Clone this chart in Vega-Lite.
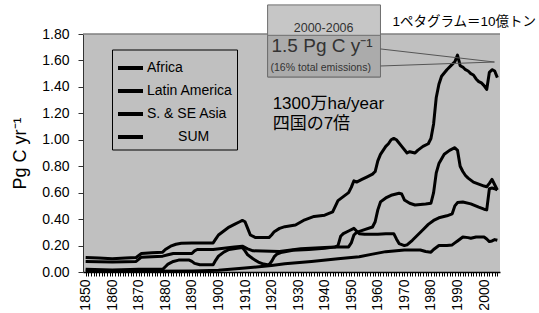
{
"$schema": "https://vega.github.io/schema/vega-lite/v6.json",
"width": 417, "height": 238,
"autosize": {"type": "none"},
"padding": {"left": 83, "top": 34, "right": 39, "bottom": 41},
"background": "white",
"config": {"view": {"fill": "#c0c0c0", "stroke": null}, "font": "Liberation Sans", "axis": {"grid": false, "labelOverlap": false}},
"layer": [
{"data": {"values": [{}]}, "mark": {"type": "rule", "color": "#7f7f7f", "strokeWidth": 1.5}, "encoding": {"y": {"datum": 1.8}}},
{"data": {"values": [
{"year":1850,"region":"SUM","value":0.11},{"year":1855,"region":"SUM","value":0.105},{"year":1860,"region":"SUM","value":0.10},{"year":1865,"region":"SUM","value":0.105},{"year":1869,"region":"SUM","value":0.11},{"year":1871,"region":"SUM","value":0.14},{"year":1875,"region":"SUM","value":0.145},{"year":1879,"region":"SUM","value":0.15},{"year":1880,"region":"SUM","value":0.17},{"year":1882,"region":"SUM","value":0.195},{"year":1884,"region":"SUM","value":0.21},{"year":1886,"region":"SUM","value":0.217},{"year":1890,"region":"SUM","value":0.22},{"year":1898,"region":"SUM","value":0.22},{"year":1899,"region":"SUM","value":0.25},{"year":1900,"region":"SUM","value":0.28},{"year":1902,"region":"SUM","value":0.31},{"year":1904,"region":"SUM","value":0.34},{"year":1906,"region":"SUM","value":0.36},{"year":1908,"region":"SUM","value":0.38},{"year":1909,"region":"SUM","value":0.39},{"year":1910,"region":"SUM","value":0.38},{"year":1911,"region":"SUM","value":0.33},{"year":1912,"region":"SUM","value":0.28},{"year":1914,"region":"SUM","value":0.26},{"year":1919,"region":"SUM","value":0.26},{"year":1920,"region":"SUM","value":0.28},{"year":1921,"region":"SUM","value":0.305},{"year":1923,"region":"SUM","value":0.33},{"year":1925,"region":"SUM","value":0.343},{"year":1929,"region":"SUM","value":0.355},{"year":1932,"region":"SUM","value":0.39},{"year":1936,"region":"SUM","value":0.42},{"year":1940,"region":"SUM","value":0.43},{"year":1943,"region":"SUM","value":0.455},{"year":1945,"region":"SUM","value":0.54},{"year":1947,"region":"SUM","value":0.57},{"year":1949,"region":"SUM","value":0.60},{"year":1950,"region":"SUM","value":0.64},{"year":1951,"region":"SUM","value":0.69},{"year":1952,"region":"SUM","value":0.68},{"year":1954,"region":"SUM","value":0.70},{"year":1956,"region":"SUM","value":0.72},{"year":1958,"region":"SUM","value":0.74},{"year":1959,"region":"SUM","value":0.76},{"year":1960,"region":"SUM","value":0.84},{"year":1961,"region":"SUM","value":0.89},{"year":1962,"region":"SUM","value":0.92},{"year":1963,"region":"SUM","value":0.95},{"year":1964,"region":"SUM","value":0.97},{"year":1965,"region":"SUM","value":1.0},{"year":1966,"region":"SUM","value":1.01},{"year":1967,"region":"SUM","value":1.0},{"year":1969,"region":"SUM","value":0.95},{"year":1971,"region":"SUM","value":0.90},{"year":1972,"region":"SUM","value":0.91},{"year":1974,"region":"SUM","value":0.90},{"year":1975,"region":"SUM","value":0.92},{"year":1977,"region":"SUM","value":0.95},{"year":1979,"region":"SUM","value":0.97},{"year":1980,"region":"SUM","value":1.01},{"year":1981,"region":"SUM","value":1.12},{"year":1982,"region":"SUM","value":1.32},{"year":1983,"region":"SUM","value":1.42},{"year":1984,"region":"SUM","value":1.48},{"year":1986,"region":"SUM","value":1.53},{"year":1988,"region":"SUM","value":1.57},{"year":1989,"region":"SUM","value":1.59},{"year":1990,"region":"SUM","value":1.64},{"year":1991,"region":"SUM","value":1.56},{"year":1992,"region":"SUM","value":1.55},{"year":1993,"region":"SUM","value":1.53},{"year":1994,"region":"SUM","value":1.52},{"year":1995,"region":"SUM","value":1.50},{"year":1996,"region":"SUM","value":1.49},{"year":1997,"region":"SUM","value":1.46},{"year":1998,"region":"SUM","value":1.44},{"year":1999,"region":"SUM","value":1.43},{"year":2000,"region":"SUM","value":1.41},{"year":2001,"region":"SUM","value":1.38},{"year":2002,"region":"SUM","value":1.51},{"year":2003,"region":"SUM","value":1.53},{"year":2004,"region":"SUM","value":1.52},{"year":2005,"region":"SUM","value":1.47},
{"year":1850,"region":"Africa","value":0.005},{"year":1870,"region":"Africa","value":0.005},{"year":1890,"region":"Africa","value":0.008},{"year":1900,"region":"Africa","value":0.013},{"year":1910,"region":"Africa","value":0.03},{"year":1920,"region":"Africa","value":0.05},{"year":1925,"region":"Africa","value":0.062},{"year":1935,"region":"Africa","value":0.08},{"year":1945,"region":"Africa","value":0.10},{"year":1953,"region":"Africa","value":0.116},{"year":1958,"region":"Africa","value":0.135},{"year":1963,"region":"Africa","value":0.154},{"year":1970,"region":"Africa","value":0.166},{"year":1976,"region":"Africa","value":0.166},{"year":1978,"region":"Africa","value":0.155},{"year":1980,"region":"Africa","value":0.15},{"year":1981,"region":"Africa","value":0.17},{"year":1983,"region":"Africa","value":0.20},{"year":1986,"region":"Africa","value":0.20},{"year":1988,"region":"Africa","value":0.205},{"year":1989,"region":"Africa","value":0.22},{"year":1990,"region":"Africa","value":0.235},{"year":1991,"region":"Africa","value":0.25},{"year":1992,"region":"Africa","value":0.265},{"year":1994,"region":"Africa","value":0.26},{"year":1995,"region":"Africa","value":0.255},{"year":1997,"region":"Africa","value":0.265},{"year":2000,"region":"Africa","value":0.265},{"year":2001,"region":"Africa","value":0.25},{"year":2002,"region":"Africa","value":0.23},{"year":2003,"region":"Africa","value":0.235},{"year":2004,"region":"Africa","value":0.245},{"year":2005,"region":"Africa","value":0.24},
{"year":1850,"region":"Latin America","value":0.02},{"year":1860,"region":"Latin America","value":0.015},{"year":1870,"region":"Latin America","value":0.02},{"year":1879,"region":"Latin America","value":0.02},{"year":1880,"region":"Latin America","value":0.04},{"year":1881,"region":"Latin America","value":0.06},{"year":1883,"region":"Latin America","value":0.08},{"year":1885,"region":"Latin America","value":0.09},{"year":1889,"region":"Latin America","value":0.09},{"year":1890,"region":"Latin America","value":0.08},{"year":1891,"region":"Latin America","value":0.065},{"year":1893,"region":"Latin America","value":0.055},{"year":1898,"region":"Latin America","value":0.055},{"year":1899,"region":"Latin America","value":0.09},{"year":1900,"region":"Latin America","value":0.12},{"year":1902,"region":"Latin America","value":0.15},{"year":1904,"region":"Latin America","value":0.17},{"year":1907,"region":"Latin America","value":0.18},{"year":1909,"region":"Latin America","value":0.185},{"year":1910,"region":"Latin America","value":0.16},{"year":1911,"region":"Latin America","value":0.13},{"year":1913,"region":"Latin America","value":0.10},{"year":1915,"region":"Latin America","value":0.075},{"year":1917,"region":"Latin America","value":0.06},{"year":1919,"region":"Latin America","value":0.053},{"year":1920,"region":"Latin America","value":0.08},{"year":1921,"region":"Latin America","value":0.116},{"year":1922,"region":"Latin America","value":0.135},{"year":1924,"region":"Latin America","value":0.15},{"year":1928,"region":"Latin America","value":0.165},{"year":1934,"region":"Latin America","value":0.17},{"year":1940,"region":"Latin America","value":0.18},{"year":1944,"region":"Latin America","value":0.19},{"year":1949,"region":"Latin America","value":0.19},{"year":1950,"region":"Latin America","value":0.22},{"year":1951,"region":"Latin America","value":0.28},{"year":1952,"region":"Latin America","value":0.30},{"year":1955,"region":"Latin America","value":0.32},{"year":1958,"region":"Latin America","value":0.34},{"year":1959,"region":"Latin America","value":0.38},{"year":1960,"region":"Latin America","value":0.47},{"year":1961,"region":"Latin America","value":0.53},{"year":1963,"region":"Latin America","value":0.56},{"year":1965,"region":"Latin America","value":0.58},{"year":1968,"region":"Latin America","value":0.595},{"year":1969,"region":"Latin America","value":0.59},{"year":1970,"region":"Latin America","value":0.545},{"year":1972,"region":"Latin America","value":0.52},{"year":1974,"region":"Latin America","value":0.507},{"year":1978,"region":"Latin America","value":0.515},{"year":1980,"region":"Latin America","value":0.52},{"year":1981,"region":"Latin America","value":0.60},{"year":1982,"region":"Latin America","value":0.75},{"year":1983,"region":"Latin America","value":0.82},{"year":1985,"region":"Latin America","value":0.89},{"year":1987,"region":"Latin America","value":0.92},{"year":1989,"region":"Latin America","value":0.94},{"year":1990,"region":"Latin America","value":0.92},{"year":1991,"region":"Latin America","value":0.80},{"year":1992,"region":"Latin America","value":0.76},{"year":1993,"region":"Latin America","value":0.73},{"year":1994,"region":"Latin America","value":0.71},{"year":1996,"region":"Latin America","value":0.68},{"year":1998,"region":"Latin America","value":0.665},{"year":2000,"region":"Latin America","value":0.65},{"year":2001,"region":"Latin America","value":0.645},{"year":2002,"region":"Latin America","value":0.67},{"year":2003,"region":"Latin America","value":0.70},{"year":2004,"region":"Latin America","value":0.66},{"year":2005,"region":"Latin America","value":0.62},
{"year":1850,"region":"S. & SE Asia","value":0.08},{"year":1855,"region":"S. & SE Asia","value":0.078},{"year":1860,"region":"S. & SE Asia","value":0.075},{"year":1865,"region":"S. & SE Asia","value":0.078},{"year":1869,"region":"S. & SE Asia","value":0.08},{"year":1871,"region":"S. & SE Asia","value":0.112},{"year":1879,"region":"S. & SE Asia","value":0.12},{"year":1881,"region":"S. & SE Asia","value":0.13},{"year":1883,"region":"S. & SE Asia","value":0.14},{"year":1890,"region":"S. & SE Asia","value":0.14},{"year":1891,"region":"S. & SE Asia","value":0.16},{"year":1892,"region":"S. & SE Asia","value":0.17},{"year":1898,"region":"S. & SE Asia","value":0.17},{"year":1902,"region":"S. & SE Asia","value":0.18},{"year":1906,"region":"S. & SE Asia","value":0.19},{"year":1909,"region":"S. & SE Asia","value":0.195},{"year":1911,"region":"S. & SE Asia","value":0.175},{"year":1913,"region":"S. & SE Asia","value":0.16},{"year":1923,"region":"S. & SE Asia","value":0.155},{"year":1931,"region":"S. & SE Asia","value":0.175},{"year":1940,"region":"S. & SE Asia","value":0.185},{"year":1944,"region":"S. & SE Asia","value":0.19},{"year":1945,"region":"S. & SE Asia","value":0.20},{"year":1946,"region":"S. & SE Asia","value":0.27},{"year":1947,"region":"S. & SE Asia","value":0.29},{"year":1949,"region":"S. & SE Asia","value":0.31},{"year":1951,"region":"S. & SE Asia","value":0.33},{"year":1952,"region":"S. & SE Asia","value":0.31},{"year":1953,"region":"S. & SE Asia","value":0.29},{"year":1955,"region":"S. & SE Asia","value":0.285},{"year":1960,"region":"S. & SE Asia","value":0.285},{"year":1963,"region":"S. & SE Asia","value":0.29},{"year":1966,"region":"S. & SE Asia","value":0.29},{"year":1967,"region":"S. & SE Asia","value":0.25},{"year":1968,"region":"S. & SE Asia","value":0.215},{"year":1970,"region":"S. & SE Asia","value":0.20},{"year":1971,"region":"S. & SE Asia","value":0.205},{"year":1973,"region":"S. & SE Asia","value":0.24},{"year":1975,"region":"S. & SE Asia","value":0.28},{"year":1977,"region":"S. & SE Asia","value":0.32},{"year":1979,"region":"S. & SE Asia","value":0.36},{"year":1981,"region":"S. & SE Asia","value":0.39},{"year":1983,"region":"S. & SE Asia","value":0.41},{"year":1986,"region":"S. & SE Asia","value":0.425},{"year":1988,"region":"S. & SE Asia","value":0.44},{"year":1989,"region":"S. & SE Asia","value":0.50},{"year":1990,"region":"S. & SE Asia","value":0.525},{"year":1992,"region":"S. & SE Asia","value":0.53},{"year":1995,"region":"S. & SE Asia","value":0.515},{"year":1998,"region":"S. & SE Asia","value":0.49},{"year":2000,"region":"S. & SE Asia","value":0.475},{"year":2001,"region":"S. & SE Asia","value":0.47},{"year":2002,"region":"S. & SE Asia","value":0.63},{"year":2003,"region":"S. & SE Asia","value":0.635},{"year":2004,"region":"S. & SE Asia","value":0.63},{"year":2005,"region":"S. & SE Asia","value":0.62}
]},
"mark": {"type": "line", "strokeWidth": 3, "strokeJoin": "round"},
"encoding": {
"x": {"field": "year", "type": "quantitative", "scale": {"domain": [1849, 2006], "nice": false, "zero": false},
"axis": {"title": null, "tickCount": 1000, "values": [1850,1851,1852,1853,1854,1855,1856,1857,1858,1859,1860,1861,1862,1863,1864,1865,1866,1867,1868,1869,1870,1871,1872,1873,1874,1875,1876,1877,1878,1879,1880,1881,1882,1883,1884,1885,1886,1887,1888,1889,1890,1891,1892,1893,1894,1895,1896,1897,1898,1899,1900,1901,1902,1903,1904,1905,1906,1907,1908,1909,1910,1911,1912,1913,1914,1915,1916,1917,1918,1919,1920,1921,1922,1923,1924,1925,1926,1927,1928,1929,1930,1931,1932,1933,1934,1935,1936,1937,1938,1939,1940,1941,1942,1943,1944,1945,1946,1947,1948,1949,1950,1951,1952,1953,1954,1955,1956,1957,1958,1959,1960,1961,1962,1963,1964,1965,1966,1967,1968,1969,1970,1971,1972,1973,1974,1975,1976,1977,1978,1979,1980,1981,1982,1983,1984,1985,1986,1987,1988,1989,1990,1991,1992,1993,1994,1995,1996,1997,1998,1999,2000,2001,2002,2003,2004,2005],
"format": "d", "labelExpr": "datum.value % 10 === 0 ? datum.label : ''", "labelAngle": 270, "labelFontSize": 14, "labelColor": "#000", "labelOverlap": false, "labelFlush": false, "labelBound": false, "labelPadding": 3, "tickSize": 4, "tickColor": "#000", "domainColor": "#000", "domainWidth": 1.5}},
"y": {"field": "value", "type": "quantitative", "scale": {"domain": [0, 1.8], "nice": false},
"axis": {"tickCount": 1000, "values": [0,0.2,0.4,0.6,0.8,1.0,1.2,1.4,1.6,1.8], "format": ".2f", "labelOverlap": false, "labelFontSize": 14, "labelColor": "#000", "labelPadding": 9, "tickSize": 5, "tickColor": "#333", "domainColor": "#333", "title": "Pg C yr⁻¹", "titleFontSize": 18, "titleFontWeight": "normal", "titleColor": "#000", "titleX": -63, "titleY": 119, "titleAngle": 270, "titleAlign": "center", "titleBaseline": "middle"}},
"color": {"field": "region", "type": "nominal", "scale": {"domain": ["Africa", "Latin America", "S. & SE Asia", "SUM"], "range": ["#000", "#000", "#000", "#000"]},
"legend": {"orient": "none", "legendX": 29, "legendY": 15.5, "title": null, "symbolType": "stroke", "symbolSize": 625, "symbolStrokeWidth": 4, "labelFontSize": 14, "labelColor": "#000", "labelOffset": 2, "rowPadding": 0, "padding": 4, "strokeColor": "#000", "fillColor": "#c0c0c0", "labelExpr": "datum.value == 'SUM' ? '\u200b\u00a0\u00a0\u00a0\u00a0\u00a0\u00a0\u00a0\u00a0SUM' : datum.label"}}
}},
{"data": {"values": [{}]}, "mark": {"type": "rect", "fill": "#c6c6c6", "stroke": "#6e6e6e", "strokeWidth": 1}, "encoding": {"x": {"datum": 1918.5}, "x2": {"datum": 1961.0}, "y": {"datum": 2.02}, "y2": {"datum": 1.475}}},
{"data": {"values": [{}]}, "mark": {"type": "rect", "fill": "#ababab", "stroke": "#6e6e6e", "strokeWidth": 1}, "encoding": {"x": {"datum": 1918.5}, "x2": {"datum": 1961.0}, "y": {"datum": 1.79}, "y2": {"datum": 1.475}}},
{"data": {"values": [{}]}, "mark": {"type": "rule", "color": "#555", "strokeWidth": 1}, "encoding": {"x": {"datum": 1961.0}, "y": {"datum": 1.687}, "x2": {"datum": 2003.9}, "y2": {"datum": 1.588}}},
{"data": {"values": [{}]}, "mark": {"type": "rule", "color": "#555", "strokeWidth": 1}, "encoding": {"x": {"datum": 1961.0}, "y": {"datum": 1.558}, "x2": {"datum": 2003.9}, "y2": {"datum": 1.588}}},
{"data": {"values": [{}]}, "mark": {"type": "text", "text": "2000-2006", "fontSize": 12.5, "color": "#333", "align": "center", "baseline": "alphabetic"}, "encoding": {"x": {"datum": 1939.6}, "y": {"datum": 1.815}}},
{"data": {"values": [{}]}, "mark": {"type": "text", "text": "1.5 Pg C y⁻¹", "fontSize": 19, "color": "#333", "align": "center", "baseline": "alphabetic"}, "encoding": {"x": {"datum": 1939.0}, "y": {"datum": 1.664}}},
{"data": {"values": [{}]}, "mark": {"type": "text", "text": "(16% total emissions)", "fontSize": 10.5, "color": "#333", "align": "center", "baseline": "alphabetic"}, "encoding": {"x": {"datum": 1938.5}, "y": {"datum": 1.52}}},
{"data": {"values": [{}]}, "mark": {"type": "text", "text": "1300万ha/year", "fontSize": 17, "font": "Liberation Sans, Noto Sans CJK JP", "color": "#000", "align": "left", "baseline": "alphabetic"}, "encoding": {"x": {"datum": 1920.4}, "y": {"datum": 1.232}}},
{"data": {"values": [{}]}, "mark": {"type": "text", "text": "四国の7倍", "fontSize": 17, "font": "Liberation Sans, Noto Sans CJK JP", "color": "#000", "align": "left", "baseline": "alphabetic"}, "encoding": {"x": {"datum": 1920.4}, "y": {"datum": 1.085}}},
{"data": {"values": [{}]}, "mark": {"type": "text", "text": "1ペタグラム＝10億トン", "fontSize": 13.5, "font": "Liberation Sans, Noto Sans CJK JP", "color": "#000", "align": "left", "baseline": "alphabetic"}, "encoding": {"x": {"datum": 1965.5}, "y": {"datum": 1.861}}}
]
}
